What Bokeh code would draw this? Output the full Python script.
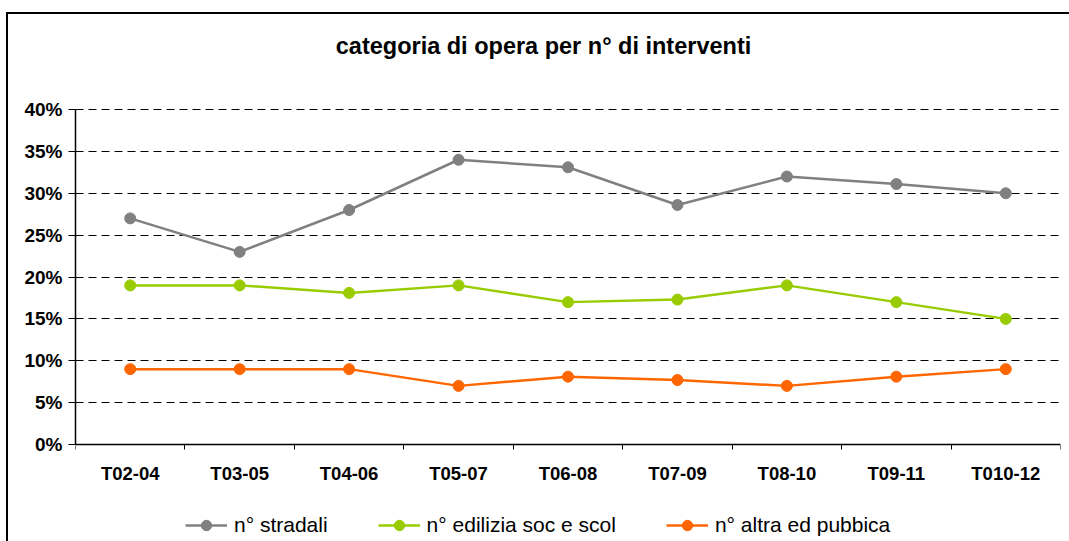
from bokeh.plotting import figure
from bokeh.models import (Range1d, FixedTicker, PrintfTickFormatter, Legend, LegendItem, Label)
from bokeh.embed import file_html
from bokeh.resources import INLINE

categories = ["T02-04", "T03-05", "T04-06", "T05-07", "T06-08", "T07-09", "T08-10", "T09-11", "T010-12"]
stradali = [27, 23, 28, 34, 33.1, 28.6, 32, 31.1, 30]
edilizia = [19, 19, 18.1, 19, 17, 17.3, 19, 17, 15]
altra = [9, 9, 9, 7, 8.1, 7.7, 7, 8.1, 9]
series_names = ["n° stradali", "n° edilizia soc e scol", "n° altra ed pubbica"]
series_colors = ["#808080", "#99CC00", "#FF6600"]
y_ticks = [0, 5, 10, 15, 20, 25, 30, 35, 40]

W, H = 1069, 541
# plot frame spans the full height; axis range 0..40 occupies pixels 109..444
PX_TOP, PX_ZERO = 109, 444
ppu = (PX_ZERO - PX_TOP) / 40.0
y_lo = -(H - PX_ZERO) / ppu
y_hi = 40 + PX_TOP / ppu

p = figure(width=W, height=H, output_backend="svg", toolbar_location=None,
           x_range=Range1d(0, len(categories)), y_range=Range1d(y_lo, y_hi),
           min_border_left=75, min_border_right=9, min_border_top=0, min_border_bottom=0)
p.outline_line_color = None
p.background_fill_alpha = 0
p.border_fill_alpha = 0
p.styles = {
    "background": "linear-gradient(#000, #000) 6px 12px / 2px 700px no-repeat, "
                  "linear-gradient(#000, #000) 6px 12px / 1200px 2px no-repeat, #fff"
}

xs = [i + 0.5 for i in range(len(categories))]

# x axis (drawn at y = 0)
p.xaxis.fixed_location = 0
p.xaxis.ticker = FixedTicker(ticks=xs, minor_ticks=list(range(len(categories) + 1)))
p.xaxis.major_label_overrides = {x: c for x, c in zip(xs, categories)}
p.xaxis.major_tick_out = 0
p.xaxis.major_tick_in = 0
p.xaxis.minor_tick_out = 5
p.xaxis.minor_tick_in = 0
p.xaxis.minor_tick_line_color = "black"
p.xaxis.axis_line_color = "black"
p.xaxis.axis_line_width = 1.5
p.xaxis.major_label_text_font = "Liberation Sans"
p.xaxis.major_label_text_font_style = "bold"
p.xaxis.major_label_text_font_size = "18.5px"
p.xaxis.major_label_text_color = "black"
p.xaxis.major_label_standoff = 13

# y axis
p.yaxis.bounds = (0, 40)
p.yaxis.ticker = FixedTicker(ticks=y_ticks, minor_ticks=[])
p.yaxis.formatter = PrintfTickFormatter(format="%d%%")
p.yaxis.major_tick_out = 7
p.yaxis.major_tick_in = 0
p.yaxis.minor_tick_out = 0
p.yaxis.minor_tick_in = 0
p.yaxis.axis_line_color = "black"
p.yaxis.axis_line_width = 1.5
p.yaxis.major_tick_line_color = "black"
p.yaxis.major_label_text_font = "Liberation Sans"
p.yaxis.major_label_text_font_style = "bold"
p.yaxis.major_label_text_font_size = "19px"
p.yaxis.major_label_text_color = "black"
p.yaxis.major_label_standoff = 6

p.xgrid.grid_line_color = None
p.ygrid.ticker = FixedTicker(ticks=y_ticks[1:])
p.ygrid.grid_line_color = "black"
p.ygrid.grid_line_dash = "8 5"
p.ygrid.grid_line_width = 1

items = []
for vals, name, col in zip([stradali, edilizia, altra], series_names, series_colors):
    l = p.line(xs, vals, line_color=col, line_width=2.5)
    s = p.scatter(xs, vals, size=11, fill_color=col, line_color=col)
    items.append(LegendItem(label=name, renderers=[l, s]))

legend = Legend(items=items, orientation="horizontal", location=(110, 3),
                label_text_font="Liberation Sans", label_text_font_size="21px",
                label_text_color="black", glyph_width=42, glyph_height=26,
                label_standoff=7, spacing=50, padding=0, margin=0,
                border_line_color=None, background_fill_alpha=0)
p.add_layout(legend, "center")

title = Label(x=468, y=H - 45, x_units="screen", y_units="screen",
              text="categoria di opera per n° di interventi",
              text_font="Liberation Sans", text_font_style="bold", text_font_size="23.5px",
              text_align="center", text_baseline="middle", text_color="black")
p.add_layout(title)

open("out.html", "w").write(file_html(p, INLINE))
